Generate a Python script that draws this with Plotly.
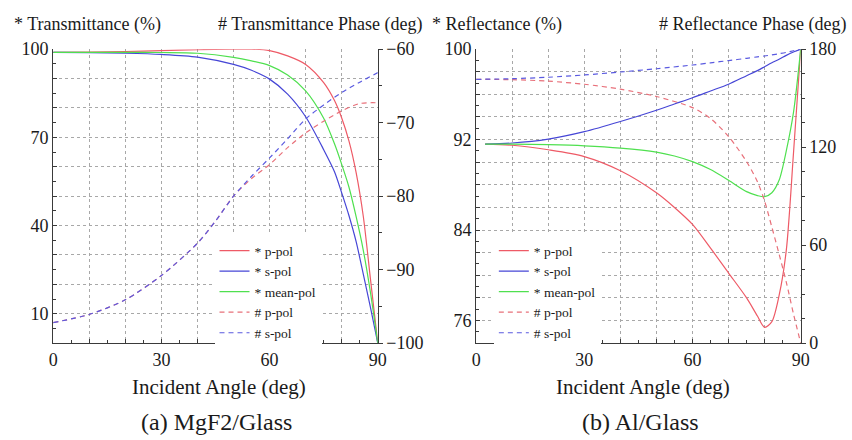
import plotly.graph_objects as go

W, H = 852, 440
FONT = "Liberation Serif, Times New Roman, Tinos, serif"

# ---------------- (a) MgF2/Glass ----------------
ang_a = [0, 10, 20, 30, 40, 50, 55, 60, 65, 70, 75, 78, 80, 82, 84, 86, 88, 90]
T_p = [98.9, 99.0, 99.2, 99.5, 99.8, 100.0, 100.0, 99.5, 97.7, 94.8, 88.6, 82.5, 76.6, 68.8, 58.0, 43.0, 21.5, 0.0]
T_s = [98.9, 98.8, 98.6, 98.2, 97.3, 94.8, 92.8, 89.8, 84.7, 77.0, 65.8, 58.3, 51.1, 43.4, 34.5, 23.4, 12.0, 0.0]
T_m = [98.9, 98.9, 98.9, 98.85, 98.6, 97.2, 96.0, 94.4, 91.2, 85.8, 76.5, 67.8, 60.8, 53.1, 43.0, 31.5, 17.0, 0.0]

ang_ph_a = [0, 10, 20, 30, 40, 45, 50, 55, 60, 65, 70, 75, 80, 85, 90]
Tph_p = [-97.2, -96.1, -94.1, -90.8, -86.4, -83.4, -80.0, -77.6, -75.7, -73.4, -71.4, -69.8, -68.4, -67.4, -67.3]
Tph_s = [-97.2, -96.1, -94.1, -90.8, -86.4, -83.4, -80.0, -77.3, -74.8, -72.2, -69.5, -67.6, -65.9, -64.5, -63.2]

# ---------------- (b) Al/Glass ----------------
ang_b = [2.5, 10, 20, 30, 40, 50, 55, 60, 65, 70, 75, 78, 80, 82, 84, 86, 88, 90]
R_p = [91.6, 91.5, 91.1, 90.5, 89.25, 87.3, 86.0, 84.5, 82.4, 80.2, 78.0, 76.4, 75.4, 75.9, 78.2, 82.2, 90.8, 100.0]
R_s = [91.6, 91.7, 92.05, 92.7, 93.6, 94.6, 95.15, 95.7, 96.3, 96.9, 97.65, 98.1, 98.45, 98.8, 99.1, 99.45, 99.75, 100.0]
R_m = [91.6, 91.6, 91.55, 91.45, 91.25, 90.9, 90.55, 90.05, 89.35, 88.4, 87.4, 87.05, 86.95, 87.3, 88.4, 91.0, 94.4, 100.0]

ang_ph_b = [0, 10, 20, 30, 40, 50, 60, 65, 70, 75, 78, 80, 82, 84, 86, 88, 90]
Rph_p = [161.5, 161.3, 160.4, 158.5, 155.5, 151.0, 144.2, 137.5, 126.5, 111.1, 98.8, 86.9, 71.0, 54.6, 37.4, 17.9, 0.0]
Rph_s = [161.5, 161.9, 162.8, 164.2, 166.0, 168.0, 170.3, 171.6, 173.0, 174.4, 175.3, 175.8, 176.5, 177.2, 178.0, 179.0, 180.0]

x_ticks = [0, 10, 20, 30, 40, 50, 60, 70, 80, 90]
x_text = ["0", "", "", "30", "", "", "60", "", "", "90"]
ya_ticks = [0, 10, 20, 30, 40, 50, 60, 70, 80, 90, 100]
ya_text = ["", "10", "", "", "40", "", "", "70", "", "", "100"]
yb_ticks = [74, 76, 78, 80, 82, 84, 86, 88, 90, 92, 94, 96, 98, 100]
yb_text = ["", "76", "", "", "", "84", "", "", "", "92", "", "", "", "100"]
ya2_ticks = [-100, -90, -80, -70, -60]
yb2_ticks = [0, 60, 120, 180]

RED = "#ee5a66"
BLUE = "#4646d6"
GREEN = "#4fe04f"
RED_D = "#e8707a"
BLUE_D = "#5a5ae0"

fig = go.Figure()

def add(x, y, name, color, dash, xa, ya, leg):
    fig.add_trace(go.Scatter(
        x=x, y=y, name=name, mode="lines", xaxis=xa, yaxis=ya, legend=leg,
        line=dict(color=color, width=1.2, dash=dash, shape="spline", smoothing=0.8)))

add(ang_a, T_p, "* p-pol", RED, "solid", "x", "y", "legend")
add(ang_a, T_s, "* s-pol", BLUE, "solid", "x", "y", "legend")
add(ang_a, T_m, "* mean-pol", GREEN, "solid", "x", "y", "legend")
add(ang_ph_a, Tph_p, "# p-pol", RED_D, "5px,4px", "x", "y2", "legend")
add(ang_ph_a, Tph_s, "# s-pol", BLUE_D, "5px,4px", "x", "y2", "legend")

add(ang_b, R_p, "* p-pol", RED, "solid", "x2", "y3", "legend2")
add(ang_b, R_s, "* s-pol", BLUE, "solid", "x2", "y3", "legend2")
add(ang_b, R_m, "* mean-pol", GREEN, "solid", "x2", "y3", "legend2")
add(ang_ph_b, Rph_p, "# p-pol", RED_D, "5px,4px", "x2", "y4", "legend2")
add(ang_ph_b, Rph_s, "# s-pol", BLUE_D, "5px,4px", "x2", "y4", "legend2")

def px(x):
    return x / W

def py(y):
    return 1 - y / H

tickfont = dict(family=FONT, size=18, color="#1a1a1a")
grid = dict(showgrid=True, gridcolor="#a8a8a8", griddash="dot", gridwidth=1)
axline = dict(showline=True, linecolor="#3a3a3a", linewidth=1, zeroline=False)

def xaxis(domain, anchor):
    return dict(domain=domain, anchor=anchor, range=[0, 90], tickmode="array",
                tickvals=x_ticks, ticktext=x_text, ticks="inside", ticklen=4,
                tickcolor="#3a3a3a", minor=dict(dtick=5, ticks="inside", ticklen=3,
                tickcolor="#3a3a3a", showgrid=False),
                tickfont=tickfont, **grid, **axline)

y_dom = [py(349), py(41)]
legfont = dict(family=FONT, size=13.5, color="#1a1a1a")
fig.update_layout(
    width=W, height=H, margin=dict(l=0, r=0, t=0, b=0),
    paper_bgcolor="white", plot_bgcolor="white",
    font=dict(family=FONT, color="#1a1a1a"),
    xaxis=xaxis([px(49), px(379)], "y"),
    xaxis2=xaxis([px(479), px(809)], "y3"),
    yaxis=dict(domain=y_dom, anchor="x", range=[0, 100], tickmode="array",
               tickvals=ya_ticks, ticktext=ya_text, ticks="inside", ticklen=4,
               tickcolor="#3a3a3a", minor=dict(dtick=5, ticks="inside", ticklen=3,
               tickcolor="#3a3a3a", showgrid=False),
               tickfont=tickfont, **grid, **axline),
    yaxis2=dict(anchor="x", overlaying="y", side="right", range=[-100, -60],
                tickmode="array", tickvals=ya2_ticks, ticks="outside", ticklen=4,
                tickcolor="#3a3a3a", minor=dict(dtick=5, ticks="outside", ticklen=3,
                tickcolor="#3a3a3a"),
                tickfont=tickfont, showgrid=False, **axline),
    yaxis3=dict(domain=y_dom, anchor="x2", range=[74, 100], tickmode="array",
                tickvals=yb_ticks, ticktext=yb_text, ticks="inside", ticklen=4,
                tickcolor="#3a3a3a", minor=dict(dtick=1, ticks="inside", ticklen=3,
                tickcolor="#3a3a3a", showgrid=False),
                tickfont=tickfont, **grid, **axline),
    yaxis4=dict(anchor="x2", overlaying="y3", side="right", range=[0, 180],
                tickmode="array", tickvals=yb2_ticks, ticks="outside", ticklen=4,
                tickcolor="#3a3a3a", minor=dict(dtick=15, ticks="outside", ticklen=3,
                tickcolor="#3a3a3a"),
                tickfont=tickfont, showgrid=False, **axline),
    legend=dict(x=px(213), y=py(236), xanchor="left", yanchor="top",
                bgcolor="white", borderwidth=0, tracegroupgap=0, font=legfont),
    legend2=dict(x=px(497), y=py(236), xanchor="left", yanchor="top",
                 bgcolor="white", borderwidth=0, tracegroupgap=0, font=legfont),
    showlegend=True,
)

def label(x, y, text, size):
    fig.add_annotation(x=px(x), y=py(y), xref="paper", yref="paper", text=text,
                       showarrow=False, xanchor="center", yanchor="middle",
                       font=dict(family=FONT, size=size, color="#1a1a1a"))

label(84, 15, "* Transmittance (%)", 18)
label(320, 15, "# Transmittance Phase (deg)", 18)
label(500, 15, "* Reflectance (%)", 18)
label(760, 15, "# Reflectance Phase (deg)", 18)
label(218, 395, "Incident Angle (deg)", 21)
label(649, 395, "Incident Angle (deg)", 21)
label(215, 432, "(a) MgF2/Glass", 24)
label(646, 432, "(b) Al/Glass", 24)

fig.write_html("out.html")
